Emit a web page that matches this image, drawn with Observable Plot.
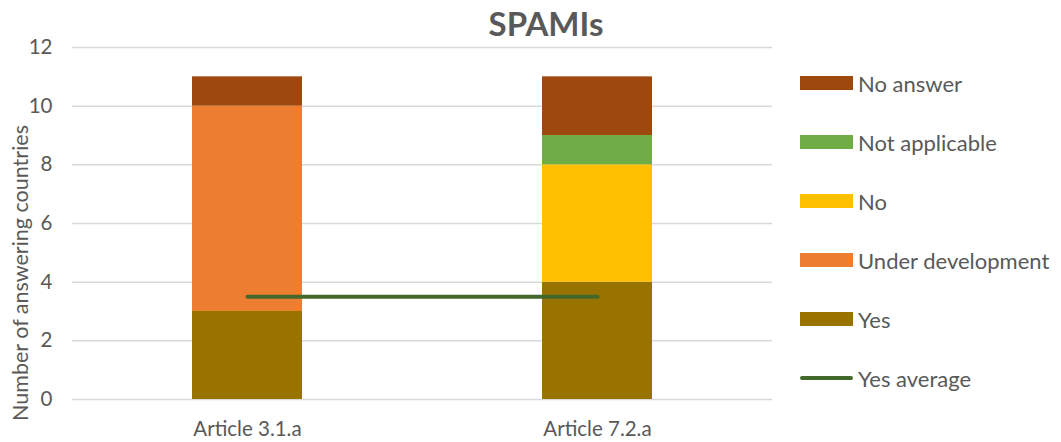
<!DOCTYPE html>
<html><head><meta charset="utf-8">
<script src="https://cdn.jsdelivr.net/npm/d3@7"></script>
<script src="https://cdn.jsdelivr.net/npm/@observablehq/plot@0.6"></script>
<style>
body{margin:0;background:#fff;font-family:Lato,"Open Sans",sans-serif;}
#wrap{position:relative;width:1061px;height:442px;overflow:hidden;}
#wrap svg{position:absolute;left:0;top:0;}
.title{position:absolute;left:546px;top:3px;transform:translateX(-50%);font-size:33px;font-weight:bold;color:#595959;white-space:nowrap;}
.ytitle{position:absolute;left:20px;top:273px;transform:translate(-50%,-50%) rotate(-90deg);font-size:21.5px;color:#595959;white-space:nowrap;}
.legend{position:absolute;left:800px;top:0;}
.row{position:absolute;left:0;height:24px;display:flex;align-items:center;white-space:nowrap;}
.sw{width:53px;height:14px;margin-right:5px;}
.ln{width:53px;height:4px;margin-right:5px;border-radius:2px;}
.row span{font-size:22px;color:#595959;}
</style></head><body><div id="wrap"></div>
<script>
const categories = ["Article 3.1.a", "Article 7.2.a"];
const series = ["Yes", "Under development", "No", "Not applicable", "No answer"];
const yesValues = [3, 4];
const underDevelopmentValues = [7, 0];
const noValues = [0, 4];
const notApplicableValues = [0, 1];
const noAnswerValues = [1, 2];
const yesAverageValues = [3.5, 3.5];
const seriesColors = ["#997300", "#ED7D31", "#FFC000", "#70AD47", "#9E480E"];
const averageLabel = "Yes average";
const averageColor = "#43682B";
const yTicks = [0, 2, 4, 6, 8, 10, 12];
const titleText = "SPAMIs";
const yLabel = "Number of answering countries";

const valueLists = [yesValues, underDevelopmentValues, noValues, notApplicableValues, noAnswerValues];
const table = [];
series.forEach((s, si) => categories.forEach((c, ci) => {
  if (valueLists[si][ci] > 0) table.push({category: c, series: s, order: si, value: valueLists[si][ci]});
}));
const avgTable = categories.map((c, i) => ({category: c, value: yesAverageValues[i]}));

const plot = Plot.plot({
  width: 1061, height: 442,
  marginLeft: 72, marginRight: 289, marginTop: 47, marginBottom: 43,
  style: {fontFamily: "Lato, 'Open Sans', sans-serif", fontSize: "20px", color: "#595959", background: "transparent"},
  x: {domain: categories, paddingInner: 0.686, paddingOuter: 0.343, label: null, tickSize: 0, tickPadding: 22},
  y: {domain: [0, 12], ticks: yTicks, label: null, tickSize: 0, tickPadding: 20},
  color: {domain: series, range: seriesColors},
  marks: [
    Plot.gridY(yTicks, {stroke: "#d9d9d9", strokeOpacity: 1, strokeWidth: 1.5}),
    Plot.barY(table, {x: "category", y: "value", fill: "series", order: (d) => d.order}),
    Plot.lineY(avgTable, {x: "category", y: "value", stroke: averageColor, strokeWidth: 4}),
    Plot.axisX({tickSize: 0, tickPadding: 22, fill: "#595959", fontSize: 20.5}),
    Plot.axisY({ticks: yTicks, tickSize: 0, tickPadding: 20, fill: "#595959", fontSize: 20.5})
  ]
});
const wrap = document.getElementById("wrap");
wrap.appendChild(plot);

const t = document.createElement("div"); t.className = "title"; t.textContent = titleText; wrap.appendChild(t);
const yt = document.createElement("div"); yt.className = "ytitle"; yt.textContent = yLabel; wrap.appendChild(yt);

const legend = document.createElement("div"); legend.className = "legend";
const items = series.map((s, i) => ({label: s, color: seriesColors[i], line: false})).reverse();
items.push({label: averageLabel, color: averageColor, line: true});
items.forEach((it, i) => {
  const row = document.createElement("div"); row.className = "row";
  row.style.top = (83 + 59 * i - 12) + "px";
  const sw = document.createElement("div"); sw.className = it.line ? "ln" : "sw"; sw.style.background = it.color;
  const sp = document.createElement("span"); sp.textContent = it.label;
  row.appendChild(sw); row.appendChild(sp); legend.appendChild(row);
});
wrap.appendChild(legend);
</script></body></html>
